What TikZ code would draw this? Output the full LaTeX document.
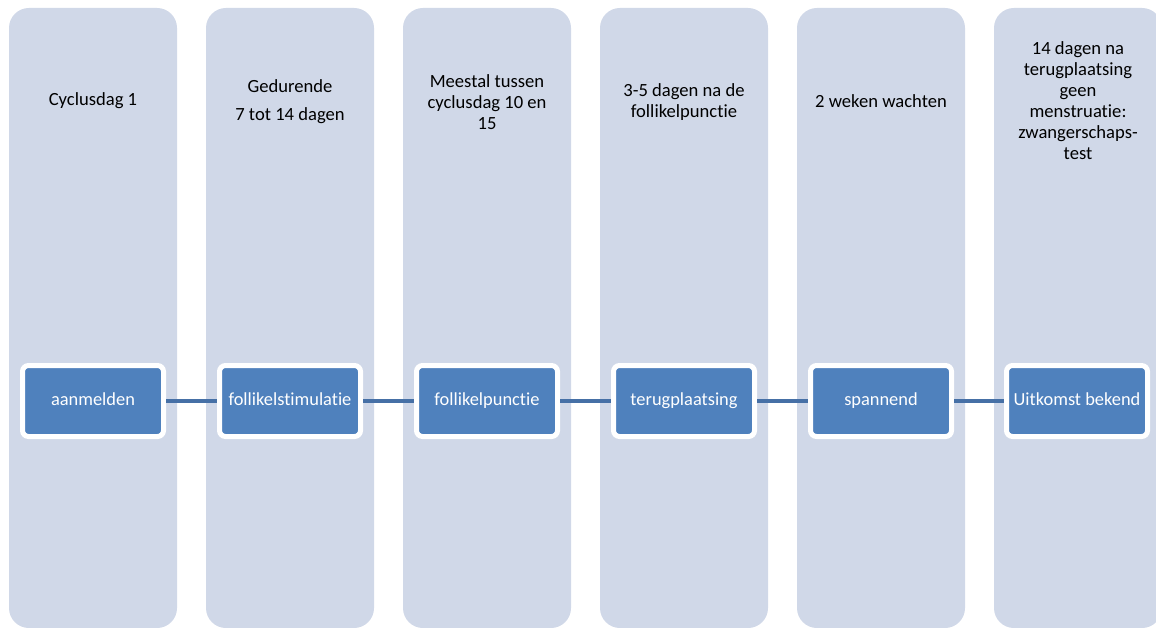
\documentclass[tikz,border=0pt]{standalone}
\usepackage{fontspec}
\setmainfont[Ligatures=NoCommon]{Carlito}
\definecolor{colfill}{RGB}{208,216,232}
\definecolor{boxfill}{RGB}{79,129,189}
\definecolor{linkcol}{RGB}{70,112,166}
\tikzset{
  col/.style={fill=colfill, draw=none, rounded corners=20pt, minimum width=168pt, minimum height=620pt, inner sep=0pt},
  coltext/.style={align=center, font=\fontsize{18.6}{21}\selectfont, text=black, inner sep=0pt},
  stepbox/.style={fill=boxfill, draw=white, line width=5pt, rounded corners=6pt, minimum width=141pt, minimum height=71pt, inner sep=0pt, text=white, font=\fontsize{18.4}{21}\selectfont, text height=9pt, text depth=0pt},
  link/.style={draw=linkcol, line width=4.5pt}
}
\begin{document}
\begin{tikzpicture}[x=1pt,y=-1pt]
\useasboundingbox (0,0) rectangle (1156,628);
\clip (0,0) rectangle (1156,628);
\fill[white] (0,0) rectangle (1156,628);
% columns
\node[col] (c1) at (93,318) {};
\node[col] (c2) at (290,318) {};
\node[col] (c3) at (487,318) {};
\node[col] (c4) at (684,318) {};
\node[col] (c5) at (881,318) {};
\node[col] (c6) at (1078,318) {};
% column texts
\node[coltext] (t1) at (93,101) {Cyclusdag 1};
\node[coltext] (t2) at (290,102) {Gedurende\\[7pt]7 tot 14 dagen};
\node[coltext] (t3) at (487,102) {Meestal tussen\\cyclusdag 10 en\\15};
\node[coltext] (t4) at (684,102) {3-5 dagen na de\\follikelpunctie};
\node[coltext] (t5) at (881,101) {2 weken wachten};
\node[coltext] (t6) at (1078,101) {14 dagen na\\terugplaatsing\\geen\\menstruatie:\\zwangerschaps-\\test};
% step boxes
\node[stepbox] (b1) at (93,401) {aanmelden};
\node[stepbox] (b2) at (290,401) {follikelstimulatie};
\node[stepbox] (b3) at (487,401) {follikelpunctie};
\node[stepbox] (b4) at (684,401) {terugplaatsing};
\node[stepbox] (b5) at (881,401) {spannend};
\node[stepbox] (b6) at (1077,401) {Uitkomst bekend};
% connectors
\draw[link] (b1.east) -- (b2.west);
\draw[link] (b2.east) -- (b3.west);
\draw[link] (b3.east) -- (b4.west);
\draw[link] (b4.east) -- (b5.west);
\draw[link] (b5.east) -- (b6.west);
\end{tikzpicture}
\end{document}
